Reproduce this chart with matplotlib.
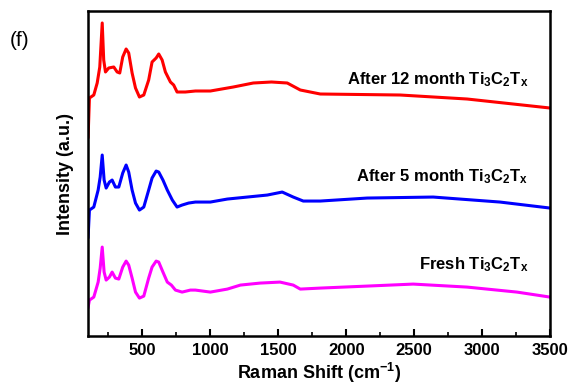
import matplotlib
matplotlib.use("Agg")
import matplotlib.pyplot as plt
from matplotlib.ticker import MultipleLocator

plt.rcParams['font.family'] = ['Liberation Sans', 'DejaVu Sans']
plt.rcParams['mathtext.default'] = 'regular'

# Raman shift (cm^-1) and intensity (a.u., offset traces)
red_x = [100, 110, 142, 167, 186, 204, 215, 228, 252, 289, 314, 333, 355, 380, 399, 424, 449, 478, 510,
         546, 571, 601, 620, 645, 669, 706, 730, 755, 816, 890,
         1000, 1169, 1316, 1450, 1566, 1662, 1809, 2397, 2890, 3500]
red_y = [199, 238, 241, 253, 269, 313, 276, 264, 268, 269, 264, 263, 279, 287, 283, 263, 248, 239, 241,
         256, 274, 278, 282, 276, 264, 254, 251, 244, 244, 245,
         245, 249, 253, 254, 253, 246, 242, 241, 237, 228]

blue_x = [100, 110, 142, 174, 189, 204, 218, 233, 257, 277, 301, 326, 355, 380, 399, 424, 449, 478, 510,
          546, 571, 601, 620, 651, 683, 720, 755, 792, 840, 890,
          1000, 1125, 1272, 1419, 1529, 1610, 1684, 1809, 2154, 2640, 3132, 3500]
blue_y = [99, 126, 129, 146, 159, 181, 156, 148, 154, 156, 149, 149, 163, 171, 164, 146, 133, 126, 129,
          146, 158, 165, 164, 156, 146, 136, 129, 131, 133, 134,
          134, 137, 139, 141, 144, 139, 135, 135, 138, 139, 134, 128]

mag_x = [100, 110, 142, 174, 189, 204, 218, 233, 257, 277, 301, 326, 355, 380, 399, 424, 449, 478, 510,
         546, 571, 601, 620, 651, 683, 713, 743, 792, 853, 890,
         1000, 1125, 1221, 1366, 1513, 1610, 1662, 1809, 2154, 2493, 2890, 3257, 3500]
mag_y = [29, 36, 39, 54, 68, 89, 64, 56, 59, 64, 58, 57, 69, 75, 71, 58, 44, 38, 40,
         58, 69, 75, 74, 64, 54, 51, 46, 44, 46, 46,
         44, 47, 51, 53, 54, 51, 47, 48, 50, 52, 49, 44, 39]

labels = [r"After 12 month Ti$_3$C$_2$T$_x$", r"After 5 month Ti$_3$C$_2$T$_x$", r"Fresh Ti$_3$C$_2$T$_x$"]
label_y = [256, 159, 71]
xticks = [500, 1000, 1500, 2000, 2500, 3000, 3500]

fig = plt.figure(figsize=(5.72, 3.85), dpi=100)
ax = fig.add_axes([0.154, 0.127, 0.8075, 0.8445])

ax.plot(red_x, red_y, color='#FF0000', lw=2.2)
ax.plot(blue_x, blue_y, color='#0000FF', lw=2.2)
ax.plot(mag_x, mag_y, color='#FF00FF', lw=2.2)

for t, yv in zip(labels, label_y):
    ax.text(3340, yv, t, ha='right', va='center', fontsize=12, fontweight='bold')

ax.set_xlim(100, 3500)
ax.set_ylim(0, 325)
ax.set_xticks(xticks)
ax.xaxis.set_minor_locator(MultipleLocator(250))
ax.set_yticks([])
ax.tick_params(axis='x', which='major', direction='in', length=5, width=1.5, labelsize=12, pad=5)
ax.tick_params(axis='x', which='minor', direction='in', length=3, width=1.2)
for lab in ax.get_xticklabels():
    lab.set_fontweight('bold')
for s in ax.spines.values():
    s.set_linewidth(1.8)

ax.set_xlabel(r"Raman Shift (cm$^{-1}$)", fontsize=13, fontweight='bold', labelpad=2)
ax.set_ylabel("Intensity (a.u.)", fontsize=13, fontweight='bold', labelpad=10)

fig.text(0.017, 0.895, "(f)", fontsize=15, ha='left', va='center')

fig.savefig("out.png", dpi=100)
